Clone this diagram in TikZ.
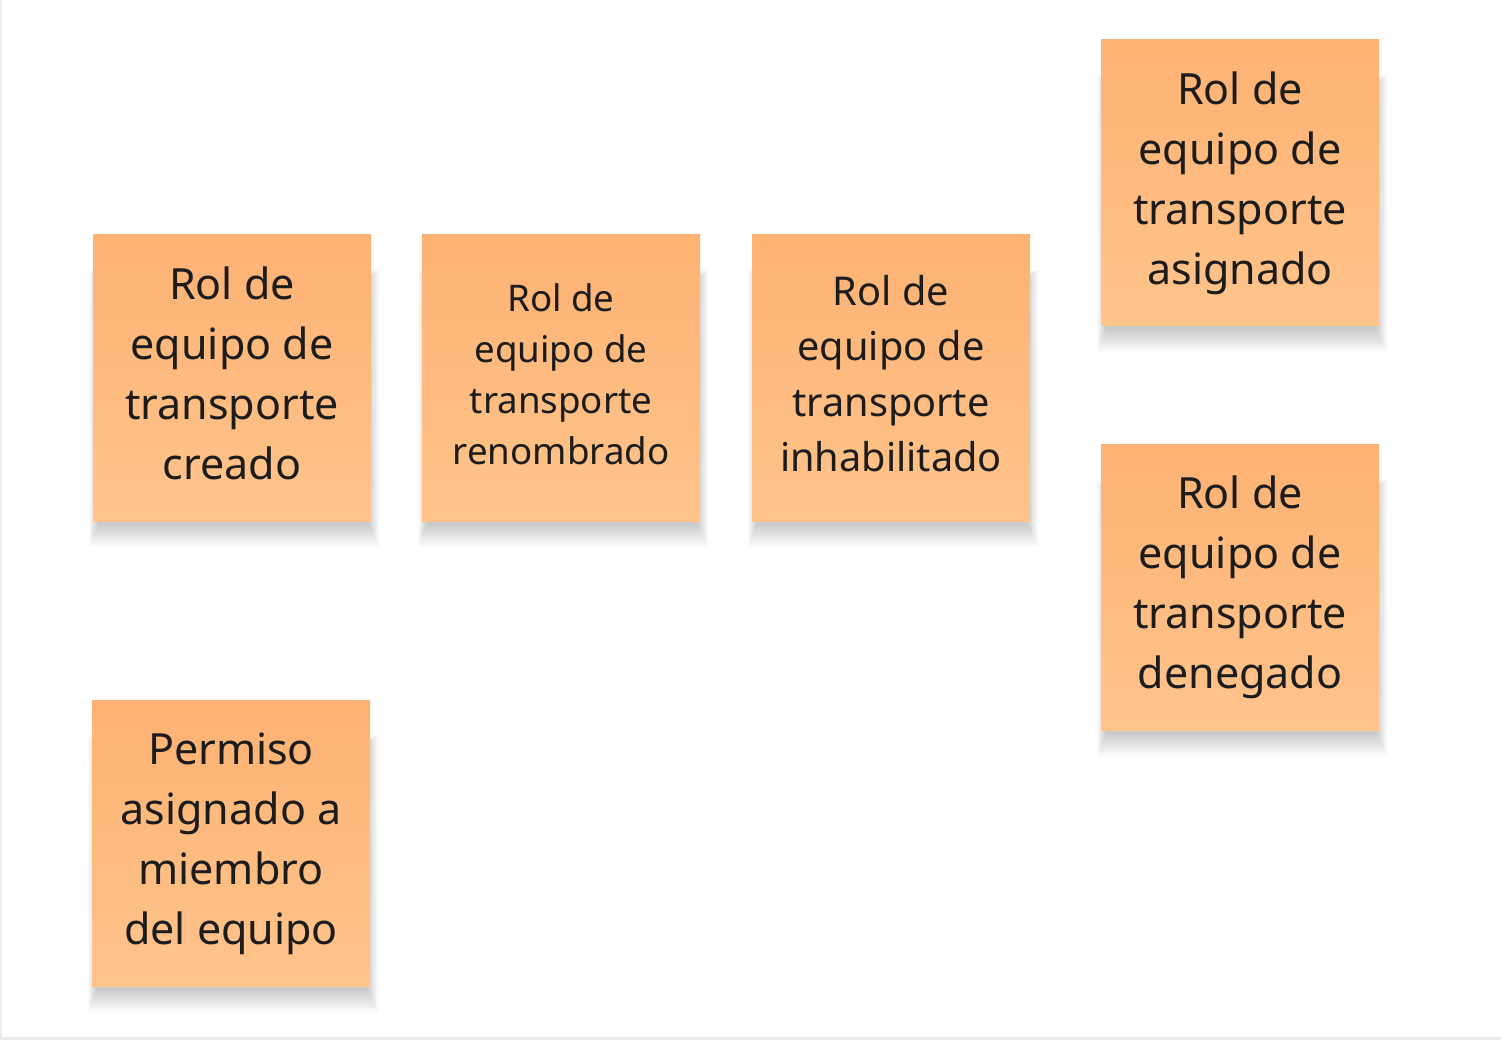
\documentclass[tikz,border=0pt]{standalone}
\usepackage{fontspec}
\setmainfont{Noto Sans}
\definecolor{notetop}{RGB}{253,178,115}
\definecolor{notebot}{RGB}{255,196,140}
\definecolor{txt}{RGB}{28,28,28}
\definecolor{frame}{RGB}{236,236,236}
\tikzset{
  note/.style={minimum width=278pt, minimum height=286pt, inner sep=0pt,
    top color=notetop, bottom color=notebot, align=center, text=txt},
  bigtxt/.style={font=\fontsize{43}{60}\selectfont},
  midtxt/.style={font=\fontsize{39.7}{55.5}\selectfont},
  smalltxt/.style={font=\fontsize{36.7}{51}\selectfont}
}
% soft shadow under a note centred at (#1,#2)
\newcommand{\noteshadow}[2]{%
  \foreach \k in {0,...,26}{%
    \fill[black, opacity=0.0065]
      (#1-134-\k*0.35, #2-100-\k*0.3) rectangle (#1+136+\k*0.45, #2+146+\k*0.9);
  }%
}
\begin{document}
\begin{tikzpicture}[x=1pt,y=-1pt]
\useasboundingbox (0,0) rectangle (1501,1040);
\fill[white] (0,0) rectangle (1501,1040);
\fill[frame] (0,0) rectangle (2,1040);
\fill[frame] (0,1037) rectangle (1501,1040);
\noteshadow{232}{378}
\noteshadow{561}{378}
\noteshadow{891}{378}
\noteshadow{1240}{183}
\noteshadow{1240}{587.5}
\noteshadow{231}{843.5}
\node[note, bigtxt] (creado) at (232,378) {Rol de\\equipo de\\transporte\\creado\vphantom{g}};
\node[note, smalltxt] (renom) at (561,378) {Rol de\\equipo de\\transporte\\renombrado\vphantom{g}};
\node[note, midtxt] (inhab) at (891,378) {Rol de\\equipo de\\transporte\\inhabilitado\vphantom{g}};
\node[note, bigtxt] (asig) at (1240,183) {Rol de\\equipo de\\transporte\\asignado};
\node[note, bigtxt] (deneg) at (1240,587.5) {Rol de\\equipo de\\transporte\\denegado};
\node[note, bigtxt] (perm) at (231,843.5) {Permiso\\asignado a\\miembro\\del equipo};
\end{tikzpicture}
\end{document}
